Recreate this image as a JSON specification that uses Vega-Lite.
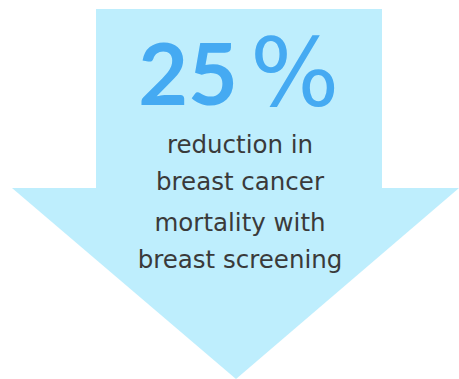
{
  "$schema": "https://vega.github.io/schema/vega-lite/v6.json",
  "width": 459,
  "height": 379,
  "autosize": {"type": "fit", "contains": "padding"},
  "padding": 0,
  "background": "white",
  "config": {"view": {"stroke": null}},
  "datasets": {
    "shaft": [{"x": 96, "x2": 382, "y": 9, "y2": 189}],
    "head": [
      {"x": 12, "y": 188, "y2": 188},
      {"x": 236, "y": 379, "y2": 188},
      {"x": 459, "y": 188, "y2": 188}
    ],
    "num": [{"x": 238, "y": 105, "label": "25"}],
    "pct": [{"x": 250, "y": 106, "label": "%"}],
    "lines": [
      {"x": 240, "y": 153, "label": "reduction in"},
      {"x": 240, "y": 190, "label": "breast cancer"},
      {"x": 240, "y": 231, "label": "mortality with"},
      {"x": 240, "y": 268, "label": "breast screening"}
    ]
  },
  "layer": [
    {
      "data": {"name": "shaft"},
      "mark": {"type": "rect", "color": "#BEEEFD"},
      "encoding": {
        "x": {"field": "x", "type": "quantitative", "scale": {"domain": [0, 459]}, "axis": null},
        "x2": {"field": "x2"},
        "y": {"field": "y", "type": "quantitative", "scale": {"domain": [379, 0]}, "axis": null},
        "y2": {"field": "y2"}
      }
    },
    {
      "data": {"name": "head"},
      "mark": {"type": "area", "color": "#BEEEFD", "orient": "vertical"},
      "encoding": {
        "x": {"field": "x", "type": "quantitative", "scale": {"domain": [0, 459]}, "axis": null},
        "y": {"field": "y", "type": "quantitative", "scale": {"domain": [379, 0]}, "axis": null},
        "y2": {"field": "y2"}
      }
    },
    {
      "data": {"name": "num"},
      "mark": {"type": "text", "font": "Lato", "fontWeight": "bold", "fontSize": 86, "color": "#45AAF2", "baseline": "alphabetic", "align": "right", "letterSpacing": 2},
      "encoding": {
        "x": {"field": "x", "type": "quantitative", "scale": {"domain": [0, 459]}, "axis": null},
        "y": {"field": "y", "type": "quantitative", "scale": {"domain": [379, 0]}, "axis": null},
        "text": {"field": "label"}
      }
    },
    {
      "data": {"name": "pct"},
      "mark": {"type": "text", "font": "DejaVu Sans", "fontWeight": "normal", "fontSize": 94, "color": "#45AAF2", "baseline": "alphabetic", "align": "left"},
      "encoding": {
        "x": {"field": "x", "type": "quantitative", "scale": {"domain": [0, 459]}, "axis": null},
        "y": {"field": "y", "type": "quantitative", "scale": {"domain": [379, 0]}, "axis": null},
        "text": {"field": "label"}
      }
    },
    {
      "data": {"name": "lines"},
      "mark": {"type": "text", "font": "DejaVu Sans", "fontSize": 24.5, "color": "#3A3A3A", "baseline": "alphabetic", "align": "center"},
      "encoding": {
        "x": {"field": "x", "type": "quantitative", "scale": {"domain": [0, 459]}, "axis": null},
        "y": {"field": "y", "type": "quantitative", "scale": {"domain": [379, 0]}, "axis": null},
        "text": {"field": "label"}
      }
    }
  ]
}
